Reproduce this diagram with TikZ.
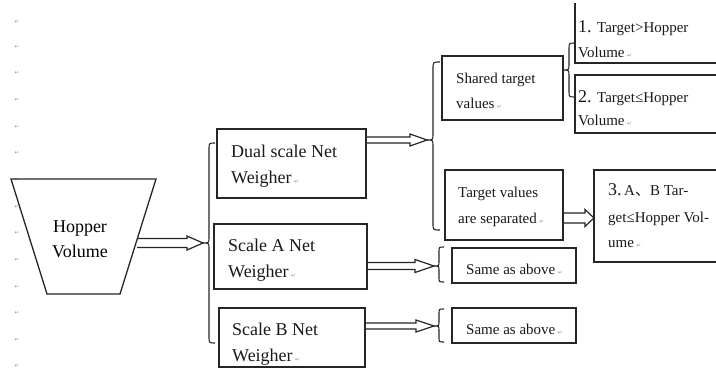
\documentclass[tikz,border=0pt]{standalone}
\usepackage{fontspec}
\setmainfont{Liberation Serif}
\newfontfamily\dvsans{DejaVu Sans}
\newfontfamily\cjkfont{Noto Sans CJK SC}
\usetikzlibrary{fit,calc}
\newcommand\bigsz{\fontsize{18}{20}\selectfont}
\newcommand\midsz{\fontsize{15}{17}\selectfont}
\newcommand\parglyph{{\dvsans\fontsize{5.5}{6}\selectfont\textcolor{black!45}{↵}}}
\newcommand\parmark{\kern2.5pt\parglyph}
% hollow block arrow: #1 start (x used), #2 tip, #3 half shaft, #4 half head, #5 head length
\newcommand\blockarrow[5]{%
  \draw[arr] let \p1=(#1), \p2=(#2) in
    (\x1,\y2+#3pt) -- (\x2-#5pt,\y2+#3pt) -- (\x2-#5pt,\y2+#4pt) -- (\x2,\y2)
    -- (\x2-#5pt,\y2-#4pt) -- (\x2-#5pt,\y2-#3pt) -- (\x1,\y2-#3pt);}
% brace opening to the right: #1 tip name, #2 x of stem, #3 top, #4 bottom, #5 middle, #6 end curl, #7 tip depth
\newcommand\mybrace[7]{%
  \coordinate (#1) at ({#2-#7},#5);
  \draw[brc] ({#2+#6},#3) .. controls (#2,#3) .. (#2,{#3+#6})
    -- (#2,{#5-#7}) .. controls (#2,#5) .. (#1)
    .. controls (#2,#5) .. (#2,{#5+#7})
    -- (#2,{#4-#6}) .. controls (#2,#4) .. ({#2+#6},#4);}
\begin{document}
\begin{tikzpicture}[x=1pt,y=-1pt,
  box/.style={draw=black!85,line width=1.3pt,inner sep=0pt},
  arr/.style={draw=black!85,line width=1.2pt,line join=miter},
  brc/.style={draw=black!85,line width=1.1pt},
  tb/.style={inner sep=0pt,anchor=base west,font=\bigsz,text=black!90},
  tm/.style={inner sep=0pt,anchor=base west,font=\midsz,text=black!90},
  pmk/.style={inner sep=0pt}]
\useasboundingbox (0,0) rectangle (716,370);
\fill[white] (0,0) rectangle (716,370);
\clip (0,3) rectangle (716,370);

% paragraph marks of the left margin
\foreach \yy [count=\i] in {22,47,73,100,127,153,180,207,233,260,287,313,340,366}
  \node[pmk] (mk\i) at (17,\yy) {\parglyph};

% hopper
\draw[box] (11,179) -- (156,179) -- (120,294) -- (47,294) -- cycle;
\node[inner sep=0pt,anchor=base,font=\bigsz] (hop1) at (80,232) {Hopper};
\node[inner sep=0pt,anchor=base,font=\bigsz] (hop2) at (80,257) {Volume};
\coordinate (hopR) at (137,242.5);

% boxes
\node[box,fit={(217,129) (366,198)}] (dual) {};
\node[box,fit={(214,224) (367,289)}] (scA) {};
\node[box,fit={(219,308) (365,367)}] (scB) {};
\node[box,fit={(442,56) (563,120)}] (shared) {};
\node[box,fit={(445,170) (563,240)}] (sep) {};
\node[box,fit={(452,248) (576,283)}] (same1) {};
\node[box,fit={(452,308) (576,343)}] (same2) {};
\node[box,fit={(575,-5) (730,63)}] (t1) {};
\node[box,fit={(575,75) (730,133)}] (t2) {};
\node[box,fit={(594,170) (730,262)}] (t3) {};

% texts
\node[tb] (d1) at (231,157) {Dual scale Net};
\node[tb] (d2) at (231,183) {Weigher\parmark};
\node[tb] (a1) at (228,251) {Scale A Net};
\node[tb] (a2) at (228,277) {Weigher\parmark};
\node[tb] (b1) at (232,335) {Scale B Net};
\node[tb] (b2) at (232,361) {Weigher\parmark};
\node[tm] (s1) at (456,83) {Shared target};
\node[tm] (s2) at (456,108) {values\parmark};
\node[tm] (p1) at (458,197) {Target values};
\node[tm] (p2) at (458,223) {are separated\parmark};
\node[tm] (q1) at (466,274) {Same as above\parmark};
\node[tm] (q2) at (466,334) {Same as above\parmark};
\node[tb] (n1) at (578,32) {1.};
\node[tm] (n1b) at (597,32) {Target>Hopper};
\node[tm] (n1c) at (578,57) {Volume\parmark};
\node[tb] (n2) at (578,102) {2.};
\node[tm] (n2b) at (597,102) {Target≤Hopper};
\node[tm] (n2c) at (578,125) {Volume\parmark};
\node[tm] (n3) at (608,195) {{\bigsz 3.}\,A{\cjkfont 、}B Tar-};
\node[tm] (n3b) at (608,222) {get≤Hopper Vol-};
\node[tm] (n3c) at (608,247) {ume\parmark};

% braces
\mybrace{br1}{209}{143}{343}{243}{6}{6}
\mybrace{br2}{433}{62}{230}{140}{7}{6}
\mybrace{br3}{439}{247}{282}{266}{5}{5}
\mybrace{br4}{439}{309}{342}{326}{5}{5}
\mybrace{br5}{569}{43}{97}{70}{6}{6}

% block arrows
\blockarrow{hopR}{br1}{4.5}{7}{16}
\blockarrow{dual.east}{br2}{3}{6}{17}
\blockarrow{scA.east}{br3}{3.5}{6.5}{19}
\blockarrow{scB.east}{br4}{3}{6}{18}
\coordinate (t3w) at (594,218);
\blockarrow{sep.east}{t3w}{5}{8.5}{9}
\end{tikzpicture}
\end{document}
